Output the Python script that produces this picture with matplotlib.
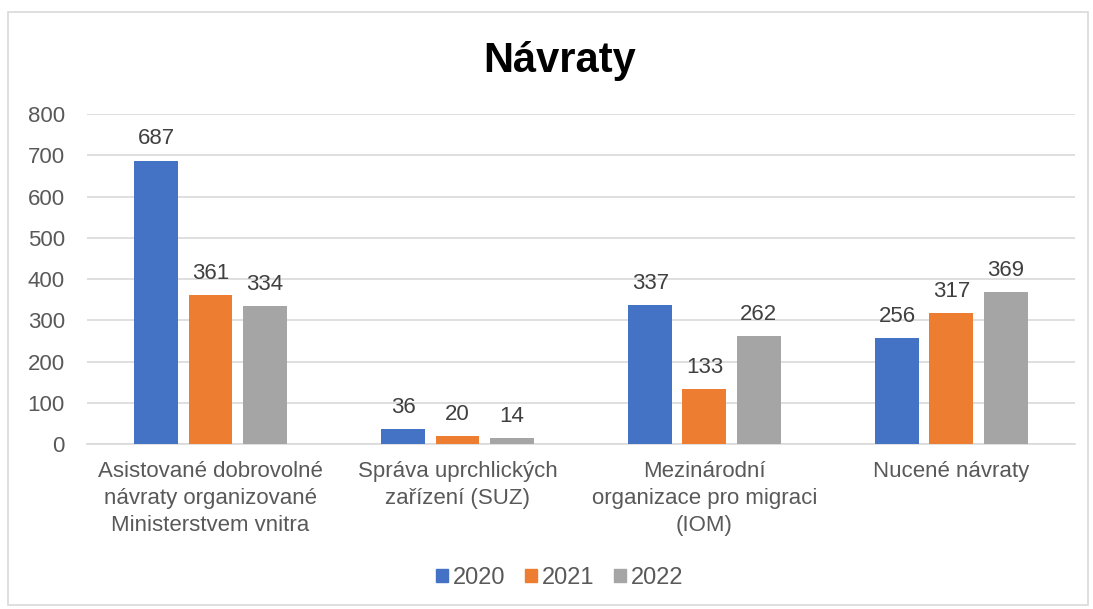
import matplotlib.pyplot as plt
import matplotlib.patches as mpatches
import numpy as np

plt.rcParams['font.family'] = ['Liberation Sans', 'DejaVu Sans']

categories = ["Asistované dobrovolné\nnávraty organizované\nMinisterstvem vnitra",
              "Správa uprchlických\nzařízení (SUZ)",
              "Mezinárodní\norganizace pro migraci\n(IOM)",
              "Nucené návraty"]
years = ["2020", "2021", "2022"]
v2020 = [687, 36, 337, 256]
v2021 = [361, 20, 133, 317]
v2022 = [334, 14, 262, 369]
colors = ["#4472C4", "#ED7D31", "#A5A5A5"]
text_col = "#595959"

fig = plt.figure(figsize=(10.93, 6.09), dpi=100)
ax = fig.add_axes([0.0796, 0.2709, 0.9039, 0.5419])

x = np.arange(len(categories))
w = 0.178
step = 0.219
for i, (vals, c) in enumerate(zip([v2020, v2021, v2022], colors)):
    bars = ax.bar(x + (i - 1) * step, vals, width=w, color=c, zorder=3)
    for b, v in zip(bars, vals):
        ax.text(b.get_x() + b.get_width() / 2, v + 27, str(v), ha='center', va='bottom',
                fontsize=16, color='#404040')

ax.set_xlim(-0.5, len(categories) - 0.5)
ax.set_ylim(0, 800)
ax.set_yticks(np.arange(0, 801, 100))
ax.yaxis.grid(True, color='#D9D9D9', linewidth=1.2, zorder=0)
ax.set_axisbelow(True)
for s in ['top', 'right', 'left']:
    ax.spines[s].set_visible(False)
ax.spines['bottom'].set_color('#D9D9D9')
ax.spines['bottom'].set_linewidth(1.2)
ax.tick_params(axis='y', length=0, pad=16, labelsize=16, labelcolor=text_col)
ax.tick_params(axis='x', length=0, pad=12, labelsize=16, labelcolor=text_col)
ax.set_xticks(x)
ax.set_xticklabels(categories, linespacing=1.4)

fig.text(0.512, 0.9, "Návraty", ha='center', va='center', fontsize=30, fontweight='bold', color='black')

handles = [mpatches.Patch(color=c, label=y) for c, y in zip(colors, years)]
fig.legend(handles=handles, loc='center', bbox_to_anchor=(0.512, 0.051), ncol=3, frameon=False,
           fontsize=17, handlelength=0.5, handleheight=0.5, handletextpad=0.2, columnspacing=0.85,
           labelcolor=text_col)

border = mpatches.Rectangle((8 / 1093, 4 / 609), 1080 / 1093, 593 / 609, transform=fig.transFigure,
                            fill=False, edgecolor='#D9D9D9', linewidth=1.2)
fig.patches.append(border)

fig.savefig('out.png', dpi=100)
